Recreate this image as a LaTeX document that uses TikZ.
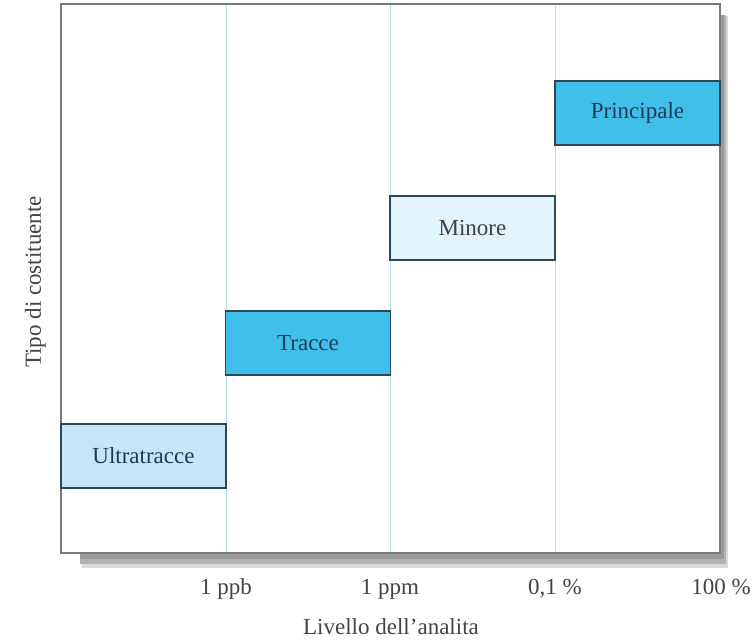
\documentclass[tikz,border=0pt]{standalone}
\usepackage{fontspec}
\setmainfont{Liberation Serif}
\begin{document}
\begin{tikzpicture}[x=1pt,y=-1pt,
  every node/.style={font=\fontsize{23}{27}\selectfont},
  level/.style={draw=boxedge, line width=1.8pt, minimum width=165pt, minimum height=64pt, inner sep=0pt, text=boxtext},
  grid/.style={draw=gridblue, line width=1pt},
  tick/.style={text=ticktext, anchor=base},
]
\definecolor{boxedge}{HTML}{2E4756}
\definecolor{boxtext}{HTML}{1E3B56}
\definecolor{gridblue}{HTML}{B4DBEE}
\definecolor{ticktext}{HTML}{444444}
\definecolor{strong}{HTML}{40BFEA}
\definecolor{pale}{HTML}{C6E6F8}
\definecolor{faint}{HTML}{E2F3FB}
\definecolor{framegray}{HTML}{7A7A7A}
\useasboundingbox (0,0) rectangle (756,643);
\fill[white] (0,0) rectangle (756,643);
% drop shadow of the plot frame
\fill[gray!30] (82,553) rectangle (728,568);
\fill[gray!30] (720,16) rectangle (728,568);
\fill[gray!60] (80,553) rectangle (726,564);
\fill[gray!60] (720,15) rectangle (726,564);
\fill[gray!80] (80,553) rectangle (724,559);
\fill[gray!80] (720,15) rectangle (724,559);
% plot frame
\fill[white] (61,4) rectangle (720,553);
% level boundaries
\coordinate (g1t) at (226,4);   \coordinate (g1b) at (226,553);
\coordinate (g2t) at (390,4);   \coordinate (g2b) at (390,553);
\coordinate (g3t) at (555,4);   \coordinate (g3b) at (555,553);
\draw[grid] (g1t) -- (g1b);
\draw[grid] (g2t) -- (g2b);
\draw[grid] (g3t) -- (g3b);
\draw[draw=framegray, line width=1.8pt] (61,4) rectangle (720,553);
% constituent classes
\node[level, fill=pale]   (ultra) at (143.5,456) {Ultratracce};
\node[level, fill=strong] (trace) at (308,343)   {Tracce};
\node[level, fill=faint, text=black!75] (minor) at (472.5,228) {Minore};
\node[level, fill=strong] (major) at (637.5,113) {Principale};
% axis ticks
\node[tick] (t1) at (226,594) {1 ppb};
\node[tick] (t2) at (390,594) {1 ppm};
\node[tick] (t3) at (555,594) {0,1 \%};
\node[tick] (t4) at (721,594) {100 \%};
% axis titles
\node[text=ticktext, anchor=base] (xlab) at (391,634) {Livello dell’analita};
\node[text=ticktext, rotate=90, anchor=base] (ylab) at (41,282) {Tipo di costituente};
\end{tikzpicture}
\end{document}
